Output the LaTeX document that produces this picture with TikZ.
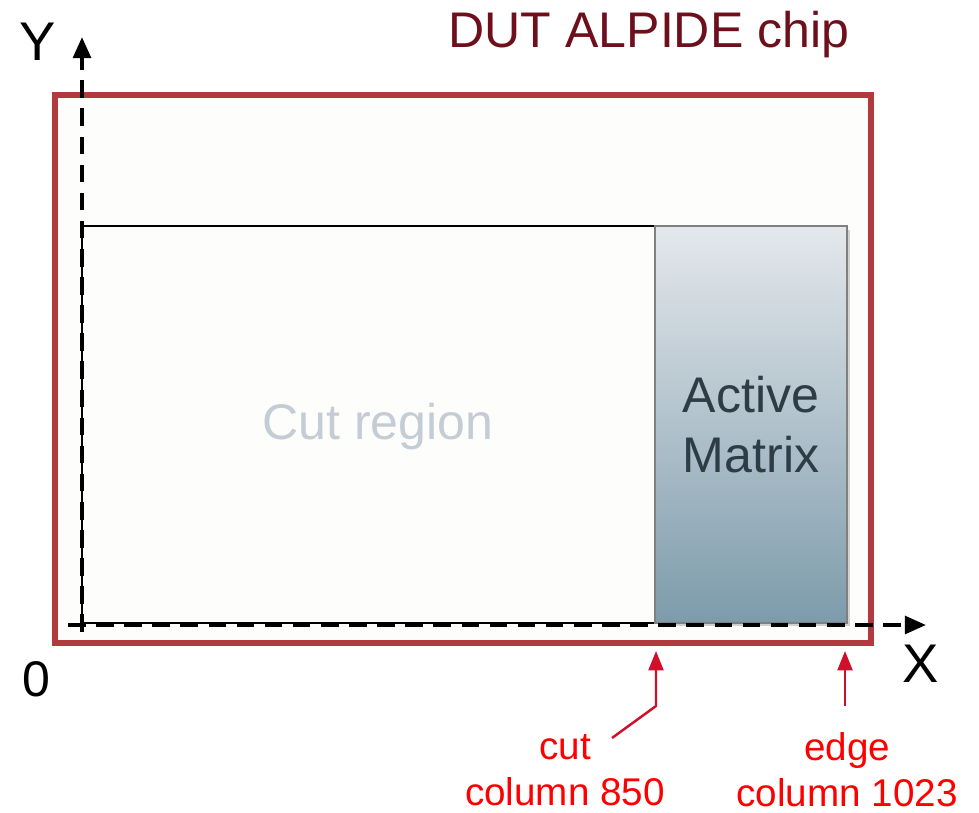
\documentclass[tikz,border=0pt]{standalone}
\usepackage{fontspec}
\setmainfont{Liberation Sans}
\usetikzlibrary{arrows.meta,shadows}
\definecolor{chipred}{HTML}{B23A3F}
\definecolor{chipfill}{HTML}{FDFDFC}
\definecolor{titlered}{HTML}{6E0F1C}
\definecolor{cutgray}{HTML}{C4CDD5}
\definecolor{matrixtop}{HTML}{E4E8EC}
\definecolor{matrixbot}{HTML}{7D9BAB}
\definecolor{matrixtext}{HTML}{2E3D45}
\definecolor{markred}{HTML}{D0102B}
\definecolor{labelred}{HTML}{FF0000}
\tikzset{
  bigtext/.style={font=\fontsize{28.5}{34}\selectfont},
  smalltext/.style={font=\fontsize{22}{26}\selectfont, text=labelred, align=center},
  axisline/.style={line width=2.3pt, dash pattern=on 10pt off 6pt,
    -{Triangle[length=12pt,width=10pt]}},
  markarrow/.style={draw=markred, line width=1.4pt,
    -{Triangle[length=11pt,width=8.5pt]}},
}
\begin{document}
\begin{tikzpicture}[x=0.02cm,y=-0.02cm]
  \useasboundingbox (0,0) rectangle (979,813);
  % chip outline
  \node[draw=chipred, line width=3.4pt, fill=chipfill, inner sep=0pt,
        minimum width=16.32cm, minimum height=10.96cm] (chip) at (463,369) {};
  \node[bigtext, text=titlered] (title) at (649,35) {DUT ALPIDE chip};
  % cut region and active matrix
  \node[draw=black, line width=1.1pt, inner sep=0pt,
        minimum width=11.46cm, minimum height=7.94cm] (cutreg) at (368.5,424.5) {};
  \node[bigtext, text=cutgray] (cuttext) at (378,427) {Cut region};
  \node[draw=gray, line width=0.9pt, top color=matrixtop, bottom color=matrixbot,
        drop shadow={shadow xshift=1.5pt, shadow yshift=-2pt, opacity=0.35},
        inner sep=0pt, minimum width=3.84cm, minimum height=7.94cm,
        bigtext, text=matrixtext, align=center] (matrix) at (751,424.5) {Active\\Matrix};
  % axes
  \coordinate (origin) at (82,625);
  \coordinate (xstart) at (68,625);
  \coordinate (xend) at (926,625);
  \coordinate (ystart) at (82,632);
  \coordinate (yend) at (82,37);
  \draw[axisline] (xstart) -- (xend);
  \draw[axisline] (ystart) -- (yend);
  \node[bigtext, font=\fontsize{31}{36}\selectfont] (ylbl) at (38,42) {Y};
  \node[bigtext, font=\fontsize{31}{36}\selectfont] (xlbl) at (921,664) {X};
  \node[bigtext] (zero) at (36,679) {0};
  % column markers
  \node[smalltext] (cutlbl) at (565,770) {cut\\column 850};
  \node[smalltext] (edgelbl) at (847,770) {edge\\column 1023};
  \coordinate (cutfoot) at (612,738);
  \coordinate (cutbend) at (656,706);
  \coordinate (cuttip) at (656,651);
  \coordinate (edgefoot) at (845,706);
  \coordinate (edgetip) at (845,651);
  \draw[markarrow] (cutfoot) -- (cutbend) -- (cuttip);
  \draw[markarrow] (edgefoot) -- (edgetip);
\end{tikzpicture}
\end{document}
